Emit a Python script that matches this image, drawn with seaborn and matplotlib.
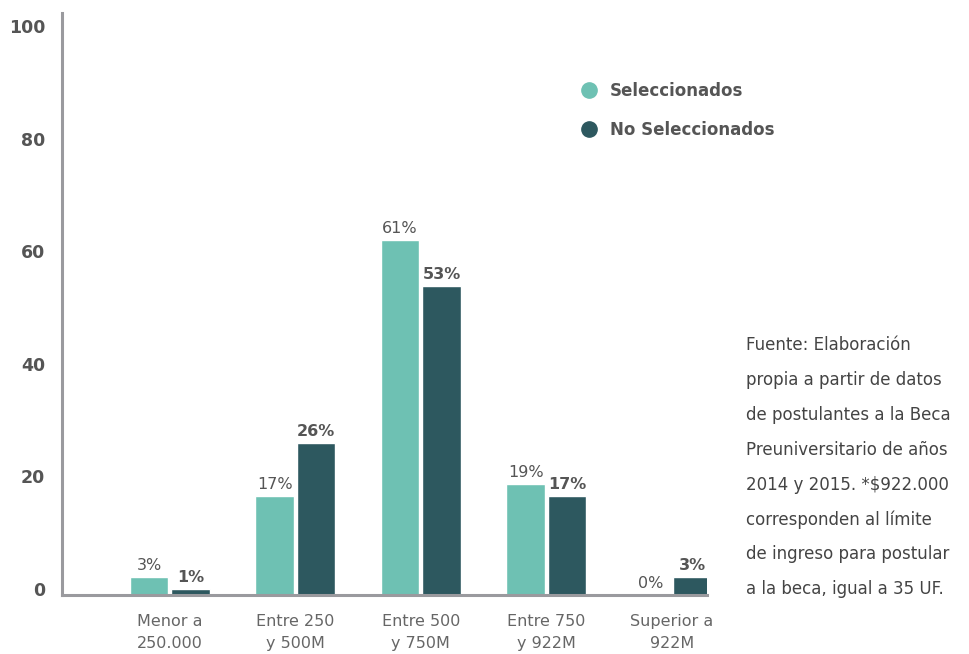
import pandas as pd
import numpy as np
import matplotlib
matplotlib.use("Agg")
import matplotlib.pyplot as plt
import matplotlib.transforms as mtrans
from matplotlib.lines import Line2D
import seaborn as sns

# datos
categorias = ["Menor a\n250.000", "Entre 250\ny 500M", "Entre 500\ny 750M",
              "Entre 750\ny 922M", "Superior a\n922M"]
seleccionados = [3.2, 17.6, 63.1, 19.7, 0.0]
no_seleccionados = [1.1, 27.0, 54.9, 17.6, 3.2]
etiquetas_sel = ["3%", "17%", "61%", "19%", "0%"]
etiquetas_no = ["1%", "26%", "53%", "17%", "3%"]
grupos = ["Seleccionados", "No Seleccionados"]
yticks = [0, 20, 40, 60, 80, 100]
nota = ["Fuente: Elaboración",
        "propia a partir de datos",
        "de postulantes a la Beca",
        "Preuniversitario de años",
        "2014 y 2015. *$922.000",
        "corresponden al límite",
        "de ingreso para postular",
        "a la beca, igual a 35 UF."]

df = pd.DataFrame({
    "categoria": categorias * 2,
    "grupo": [grupos[0]] * 5 + [grupos[1]] * 5,
    "valor": seleccionados + no_seleccionados,
})

sns.set_theme(style="white")
plt.rcParams["font.family"] = ["DejaVu Sans"]

c_sel = "#6EC1B3"
c_no = "#2D585F"
gris = "#555555"

fig = plt.figure(figsize=(9.69, 6.54), dpi=100)
ax = fig.add_axes([62 / 969, 1 - 595 / 654, (707 - 62) / 969, (595 - 13) / 654])

sns.barplot(data=df, x="categoria", y="valor", hue="grupo",
            palette=[c_sel, c_no], width=0.66, gap=0.07,
            saturation=1, legend=False, ax=ax)

ax.set_xlim(-0.86, 4.28)
ax.set_ylim(0, 103.4)
ax.set_xlabel("")
ax.set_ylabel("")

# etiquetas sobre barras
ax.bar_label(ax.containers[0], labels=etiquetas_sel, padding=3,
             fontsize=11.5, color=gris)
ax.bar_label(ax.containers[1], labels=etiquetas_no, padding=3,
             fontsize=11.5, color=gris, fontweight="bold")

# ejes
for s in ["top", "right"]:
    ax.spines[s].set_visible(False)
for s in ["left", "bottom"]:
    ax.spines[s].set_color("#9a9a9e")
    ax.spines[s].set_linewidth(2.2)

ax.set_yticks(yticks)
ax.set_yticklabels([str(t) for t in yticks], fontsize=12.5,
                   fontweight="bold", color=gris)
ax.tick_params(axis="y", length=0, pad=12)
ax.tick_params(axis="x", length=0, pad=14, labelsize=11.5, labelcolor="#666666")
for lab in ax.get_xticklabels():
    lab.set_linespacing(1.55)

off = mtrans.ScaledTranslation(0, 6 / 100, fig.dpi_scale_trans)
for lab in ax.get_yticklabels():
    lab.set_transform(lab.get_transform() + off)

# leyenda
handles = [Line2D([0], [0], marker="o", linestyle="", markersize=11,
                  markerfacecolor=c, markeredgecolor=c) for c in [c_sel, c_no]]
leg = fig.legend(handles, grupos, loc="upper left",
                 bbox_to_anchor=(557 / 969, 1 - 67 / 654), frameon=False,
                 handletextpad=0.25, labelspacing=1.25,
                 prop={"weight": "bold", "size": 12})
for t in leg.get_texts():
    t.set_color(gris)

# fuente (una linea por renglon)
for i, linea in enumerate(nota):
    fig.text(746 / 969, 1 - (345 + i * 34.9) / 654, linea, ha="left",
             va="center", fontsize=12, color="#444444")

fig.savefig("out.png", dpi=100)
